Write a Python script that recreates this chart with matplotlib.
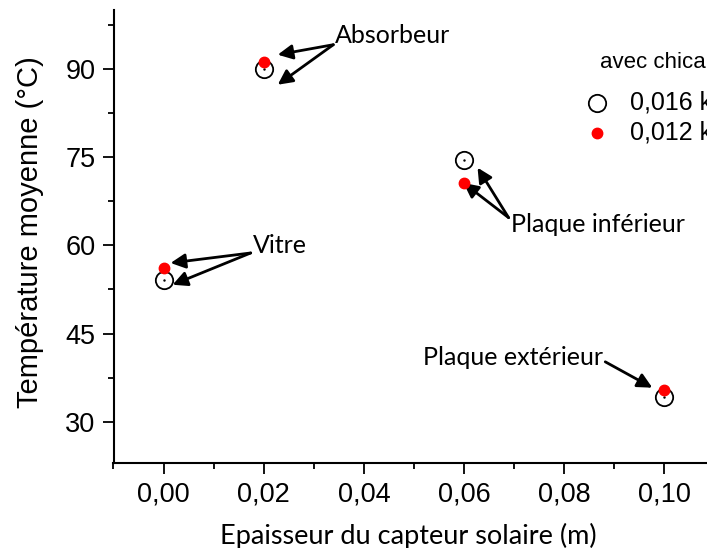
import matplotlib
matplotlib.use("Agg")
import matplotlib.pyplot as plt
from matplotlib.lines import Line2D
from matplotlib.ticker import FuncFormatter, MultipleLocator

# data
epaisseur = [0.00, 0.02, 0.06, 0.10]
temp_016 = [54.1, 89.9, 74.5, 34.2]
temp_012 = [56.2, 91.2, 70.6, 35.4]
legend_title = "avec chicanes"
labels = ["0,016 kg/s", "0,012 kg/s"]

plt.rcParams['font.family'] = ['Liberation Sans', 'DejaVu Sans']
note_font = ['Lato', 'DejaVu Sans']

W, H = 707, 548
fig = plt.figure(figsize=(W / 100, H / 100), dpi=100)
# axes run past the right edge, as in the cropped reference
ax = fig.add_axes([113.5 / W, 85 / H, 651 / W, 453 / H])

ax.plot(epaisseur, temp_016, 'o', mfc='white', mec='black', mew=1.3, ms=12.5,
        ls='none', zorder=3)
ax.plot(epaisseur, temp_016, '.', color='black', ms=1.5, ls='none', zorder=4)
ax.plot(epaisseur, temp_012, 'o', color='red', ms=7.5, ls='none', zorder=5)

ax.set_xlim(-0.01, 0.12)
ax.set_ylim(23, 100)
ax.xaxis.set_major_locator(MultipleLocator(0.02))
ax.xaxis.set_minor_locator(MultipleLocator(0.01))
ax.yaxis.set_major_locator(MultipleLocator(15))
ax.yaxis.set_minor_locator(MultipleLocator(7.5))
ax.xaxis.set_major_formatter(FuncFormatter(lambda v, p: f"{v:.2f}".replace('.', ',')))
ax.yaxis.set_major_formatter(FuncFormatter(lambda v, p: f"{v:.0f}"))
ax.tick_params(which='major', direction='out', length=8, width=1.3, labelsize=19.5)
ax.tick_params(which='minor', direction='out', length=4, width=1.3)
ax.tick_params(axis='x', pad=5)
ax.tick_params(axis='y', pad=5)

for s in ['top', 'right']:
    ax.spines[s].set_visible(False)
for s in ['left', 'bottom']:
    ax.spines[s].set_linewidth(1.5)

# axis titles placed in figure pixels
fig.text(30 / W, 1 - 232 / H, "Température moyenne (°C)", fontsize=21,
         rotation=90, ha='center', va='center')
fig.text(408 / W, 1 - 536 / H, "Epaisseur du capteur solaire (m)", fontsize=19.5,
         family=note_font, ha='center', va='center')

arrow = dict(arrowstyle='-|>', color='black', lw=2, mutation_scale=22, shrinkA=0, shrinkB=0)

def note(text, text_pos, ha, start, targets):
    ax.text(text_pos[0], text_pos[1], text, fontsize=18, family=note_font, ha=ha, va='center')
    for t in targets:
        ax.annotate('', xy=t, xytext=start, arrowprops=arrow)

note("Absorbeur", (0.0343, 95.6), 'left', (0.0339, 94.1), [(0.0228, 92.4), (0.0228, 87.3)])
note("Vitre", (0.0178, 59.9), 'left', (0.0174, 58.7), [(0.0014, 57.0), (0.0018, 53.3)])
note("Plaque inférieur", (0.0693, 63.5), 'left', (0.0689, 64.7), [(0.0627, 73.2), (0.0599, 70.6)])
note("Plaque extérieur", (0.0878, 41.0), 'right', (0.0882, 40.2), [(0.0976, 35.8)])

# legend, drawn by hand (cut by the right edge like the reference)
fig.text(600 / W, 1 - 63 / H, legend_title, fontsize=16, ha='left', va='center')
fig.add_artist(Line2D([597 / W], [1 - 103 / H], marker='o', mfc='white', mec='black',
                      mew=1.3, ms=12.5, ls='none', transform=fig.transFigure))
fig.add_artist(Line2D([597 / W], [1 - 133 / H], marker='o', color='red',
                      ms=7.5, ls='none', transform=fig.transFigure))
fig.text(630 / W, 1 - 103 / H, labels[0], fontsize=18, ha='left', va='center')
fig.text(630 / W, 1 - 133 / H, labels[1], fontsize=18, ha='left', va='center')

fig.savefig("out.png", dpi=100)
